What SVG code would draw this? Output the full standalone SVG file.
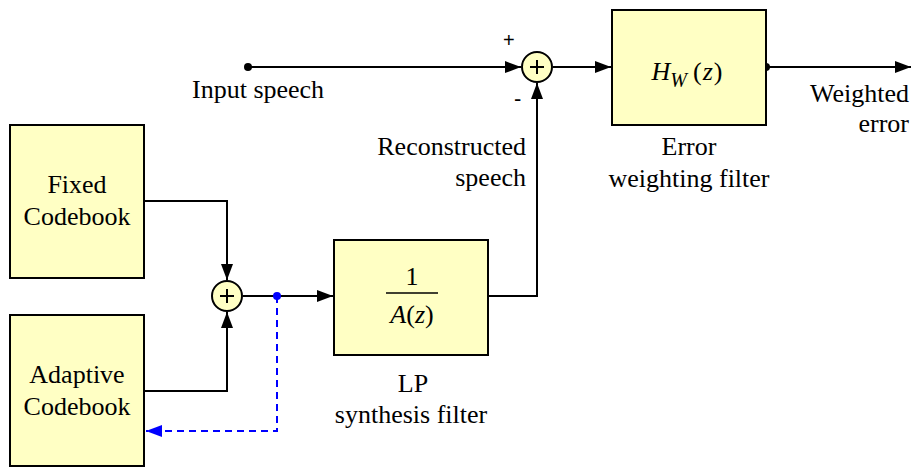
<svg xmlns="http://www.w3.org/2000/svg" width="912" height="468" viewBox="0 0 912 468">
<defs>
<style>
.box{fill:#ffffc4;stroke:#000;stroke-width:2}
.ln{fill:none;stroke:#000;stroke-width:2}
.fb{fill:none;stroke:#0000ff;stroke-width:2;stroke-dasharray:7,5}
.t{font-size:26px;fill:#000}
.c{text-anchor:middle}
.r{text-anchor:end}
.i{font-style:italic}
</style>
<marker id="ah" markerWidth="16" markerHeight="12" refX="16" refY="6" orient="auto" markerUnits="userSpaceOnUse"><path d="M0,0 L16,6 L0,12 Z" fill="#000"/></marker>
<marker id="ahb" markerWidth="16" markerHeight="12" refX="16" refY="6" orient="auto" markerUnits="userSpaceOnUse"><path d="M0,0 L16,6 L0,12 Z" fill="#0000ff"/></marker>
</defs>
<rect width="912" height="468" fill="#fff"/>
<g id="connectors">
<path class="ln" d="M248,67 H521" marker-end="url(#ah)"/>
<path class="ln" d="M553,67 H611" marker-end="url(#ah)"/>
<path class="ln" d="M766,67 H911" marker-end="url(#ah)"/>
<path class="ln" d="M145,201 H227 V280" marker-end="url(#ah)"/>
<path class="ln" d="M145,391 H227 V312" marker-end="url(#ah)"/>
<path class="ln" d="M243,296 H333" marker-end="url(#ah)"/>
<path class="ln" d="M488,296 H537 V83" marker-end="url(#ah)"/>
<path class="fb" d="M277,296 V431 H146" marker-end="url(#ahb)"/>
<circle cx="248" cy="67" r="4" fill="#000"/>
<circle cx="766" cy="67" r="4" fill="#000"/>
<circle cx="277" cy="296" r="4" fill="#0000ff"/>
</g>
<g font-family="'Liberation Serif', Tinos, 'Times New Roman', 'DejaVu Serif', serif">
<g id="fixed-codebook">
<rect class="box" x="10" y="125" width="134" height="153"/>
<text class="t c" x="77" y="193">Fixed</text>
<text class="t c" x="77" y="225">Codebook</text>
</g>
<g id="adaptive-codebook">
<rect class="box" x="10" y="315" width="134" height="151"/>
<text class="t c" x="77" y="383">Adaptive</text>
<text class="t c" x="77" y="415">Codebook</text>
</g>
<g id="sum1">
<circle class="box" cx="227" cy="296" r="15"/>
<path class="ln" d="M220,296 H234 M227,289 V303"/>
</g>
<g id="lp-filter">
<rect class="box" x="334" y="240" width="154" height="115"/>
<text class="t c" x="412" y="285">1</text>
<line x1="386" y1="293" x2="438" y2="293" stroke="#000" stroke-width="1.5"/>
<text class="t c" x="412" y="323"><tspan class="i">A</tspan>(<tspan class="i">z</tspan>)</text>
<text class="t c" x="413" y="392">LP</text>
<text class="t c" x="411" y="423">synthesis filter</text>
</g>
<g id="sum2">
<circle class="box" cx="537" cy="67" r="15"/>
<path class="ln" d="M530,67 H544 M537,60 V74"/>
<text x="503" y="47" font-family="'Liberation Sans', Arial, sans-serif" font-size="20">+</text>
<text x="514" y="106" font-family="'Liberation Sans', Arial, sans-serif" font-size="22">-</text>
</g>
<g id="error-filter">
<rect class="box" x="612" y="10" width="154" height="115"/>
<text class="t c" x="687" y="80"><tspan class="i">H</tspan><tspan class="i" font-size="20" dy="7">W</tspan><tspan dy="-7" dx="6">(</tspan><tspan class="i" dx="1">z</tspan><tspan dx="1">)</tspan></text>
<text class="t c" x="689" y="155">Error</text>
<text class="t c" x="689" y="187">weighting filter</text>
</g>
<g id="labels">
<text class="t" x="192" y="98">Input speech</text>
<text class="t r" x="526" y="155">Reconstructed</text>
<text class="t r" x="526" y="186">speech</text>
<text class="t r" x="909" y="102">Weighted</text>
<text class="t r" x="909" y="132">error</text>
</g>
</g>
</svg>
